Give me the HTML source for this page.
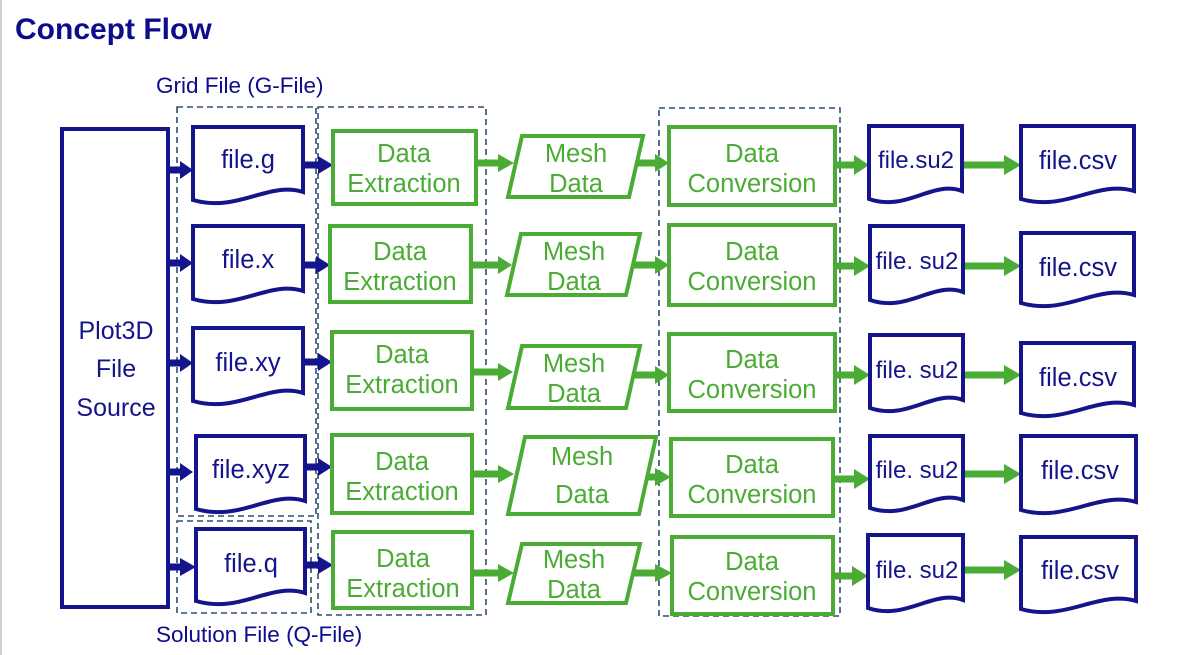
<!DOCTYPE html>
<html><head><meta charset="utf-8"><style>
html,body{margin:0;padding:0;background:#fff}
svg{display:block}
text{font-family:"Liberation Sans",Arial,sans-serif}
</style></head><body>
<svg width="1192" height="655" viewBox="0 0 1192 655" xmlns="http://www.w3.org/2000/svg">
<line x1="1" y1="0" x2="1" y2="655" stroke="#cfcfcf" stroke-width="2"/>
<text x="15" y="39" font-size="30" font-weight="bold" fill="#0d0d8c">Concept Flow</text>
<text x="156" y="93" font-size="22.5" fill="#0d0d8c">Grid File (G-File)</text>
<text x="156" y="642" font-size="22.5" fill="#0d0d8c">Solution File (Q-File)</text>

<g fill="none" stroke="#2b4e72" stroke-width="1.6" stroke-dasharray="6,4">
<rect x="177" y="107" width="139" height="409"/>
<rect x="318" y="107" width="168" height="508"/>
<rect x="177" y="521" width="134" height="92"/>
<rect x="659" y="108" width="181" height="508"/>
</g>

<rect x="62" y="129" width="106" height="478" fill="none" stroke="#14148c" stroke-width="4"/>
<g font-size="25" fill="#14148c" text-anchor="middle">
<text x="116" y="339">Plot3D</text><text x="116" y="377">File</text><text x="116" y="416">Source</text>
</g>

<g stroke="#14148c" stroke-width="7">
<line x1="168" y1="170" x2="182" y2="170"/><line x1="168" y1="263" x2="182" y2="263"/><line x1="168" y1="363" x2="182" y2="363"/><line x1="168" y1="472" x2="182" y2="472"/><line x1="168" y1="567" x2="182" y2="567"/>
<line x1="303" y1="165" x2="320" y2="165"/><line x1="303" y1="265" x2="318" y2="265"/><line x1="303" y1="362" x2="320" y2="362"/><line x1="305" y1="467" x2="320" y2="467"/><line x1="305" y1="565" x2="320" y2="565"/>
</g>
<g fill="#14148c">
<polygon points="180,161 193,170 180,179"/><polygon points="180,254 193,263 180,272"/><polygon points="180,354 193,363 180,372"/><polygon points="180,463 193,472 180,481"/><polygon points="180,558 196,567 180,576"/>
<polygon points="318,156 333,165 318,174"/><polygon points="316,256 330,265 316,274"/><polygon points="318,353 332,362 318,371"/><polygon points="318,458 332,467 318,476"/><polygon points="318,556 333,565 318,574"/>
</g>

<g stroke="#4aac34" stroke-width="7">
<line x1="476" y1="163" x2="500" y2="163"/><line x1="471" y1="265" x2="500" y2="265"/><line x1="472" y1="372" x2="500" y2="372"/><line x1="472" y1="474" x2="500" y2="474"/><line x1="472" y1="573" x2="500" y2="573"/>
<line x1="636" y1="163" x2="657" y2="163"/><line x1="633" y1="265" x2="657" y2="265"/><line x1="633" y1="375" x2="657" y2="375"/><line x1="648" y1="477" x2="657" y2="477"/><line x1="633" y1="573" x2="657" y2="573"/>
<line x1="835" y1="165" x2="856" y2="165"/><line x1="835" y1="266" x2="856" y2="266"/><line x1="835" y1="375" x2="856" y2="375"/><line x1="833" y1="479" x2="856" y2="479"/><line x1="833" y1="576" x2="854" y2="576"/>
<line x1="962" y1="165" x2="1006" y2="165"/><line x1="963" y1="266" x2="1006" y2="266"/><line x1="963" y1="375" x2="1006" y2="375"/><line x1="963" y1="474" x2="1006" y2="474"/><line x1="963" y1="570" x2="1006" y2="570"/>
</g>
<g fill="#4aac34">
<polygon points="498,154 514,163 498,172"/><polygon points="498,256 512,265 498,274"/><polygon points="498,363 513,372 498,381"/><polygon points="498,465 514,474 498,483"/><polygon points="498,564 514,573 498,582"/>
<polygon points="655,154 669,163 655,172"/><polygon points="655,256 669,265 655,274"/><polygon points="655,366 669,375 655,384"/><polygon points="655,468 671,477 655,486"/><polygon points="655,564 672,573 655,582"/>
<polygon points="854,155 869,165 854,175"/><polygon points="854,256 870,266 854,276"/><polygon points="854,365 870,375 854,385"/><polygon points="854,469 870,479 854,489"/><polygon points="852,566 868,576 852,586"/>
<polygon points="1004,155 1021,165 1004,175"/><polygon points="1004,256 1021,266 1004,276"/><polygon points="1004,365 1021,375 1004,385"/><polygon points="1004,464 1021,474 1004,484"/><polygon points="1004,560 1021,570 1004,580"/>
</g>

<g fill="#fff" stroke="#14148c" stroke-width="4">
<path d="M193 127H303V192C268 181 238 213 193 200Z"/>
<path d="M193 226H303V291C268 280 238 312 193 299Z"/>
<path d="M193 328H303V393C268 382 238 414 193 401Z"/>
<path d="M196 436H305V501C270 490 241 522 196 509Z"/>
<path d="M196 529H305V593C270 582 241 614 196 601Z"/>
<path d="M869 126H962V191C932 180 907 212 869 199Z"/>
<path d="M870 226H963V292C933 281 908 313 870 300Z"/>
<path d="M870 335H963V400C933 389 908 421 870 408Z"/>
<path d="M870 436H963V500C933 489 908 521 870 508Z"/>
<path d="M868 535H963V600C933 589 906 621 868 608Z"/>
<path d="M1021 126H1134V191C1096 180 1066 212 1021 199Z"/>
<path d="M1021 233H1134V295C1096 284 1066 316 1021 303Z"/>
<path d="M1021 343H1134V405C1096 394 1066 426 1021 413Z"/>
<path d="M1021 436H1136V502C1098 491 1066 523 1021 510Z"/>
<path d="M1021 537H1136V601C1098 590 1066 622 1021 609Z"/>
</g>
<g font-size="25.5" fill="#14148c" text-anchor="middle">
<text x="248" y="168">file.g</text>
<text x="248" y="268">file.x</text>
<text x="248" y="371">file.xy</text>
<text x="251" y="478">file.xyz</text>
<text x="251" y="572">file.q</text>
<text x="916" y="168" font-size="24">file.su2</text>
<text x="917" y="269" font-size="24">file. su2</text>
<text x="917" y="378" font-size="24">file. su2</text>
<text x="917" y="478" font-size="24">file. su2</text>
<text x="917" y="578" font-size="24">file. su2</text>
<text x="1078" y="169">file.csv</text>
<text x="1078" y="276">file.csv</text>
<text x="1078" y="386">file.csv</text>
<text x="1080" y="479">file.csv</text>
<text x="1080" y="579">file.csv</text>
</g>

<g fill="#fff" stroke="#4aac34" stroke-width="4">
<rect x="333" y="131" width="143" height="73"/>
<rect x="330" y="226" width="141" height="76"/>
<rect x="332" y="332" width="140" height="77"/>
<rect x="332" y="435" width="140" height="78"/>
<rect x="333" y="532" width="139" height="76"/>
<polygon points="522,136 643,136 629,197 508,197"/>
<polygon points="521,234 640,234 626,295 507,295"/>
<polygon points="522,346 640,346 626,408 508,408"/>
<polygon points="525,437 656,437 639,514 508,514"/>
<polygon points="522,544 640,544 626,603 508,603"/>
<rect x="669" y="127" width="166" height="78"/>
<rect x="669" y="225" width="166" height="80"/>
<rect x="669" y="334" width="166" height="77"/>
<rect x="671" y="439" width="162" height="77"/>
<rect x="672" y="537" width="161" height="77"/>
</g>
<g font-size="25.5" fill="#4aac34" text-anchor="middle">
<text x="404" y="162">Data</text><text x="404" y="192">Extraction</text>
<text x="400" y="260">Data</text><text x="400" y="290">Extraction</text>
<text x="402" y="363">Data</text><text x="402" y="393">Extraction</text>
<text x="402" y="470">Data</text><text x="402" y="500">Extraction</text>
<text x="403" y="567">Data</text><text x="403" y="597">Extraction</text>
<text x="576" y="162">Mesh</text><text x="576" y="192">Data</text>
<text x="574" y="260">Mesh</text><text x="574" y="290">Data</text>
<text x="574" y="372">Mesh</text><text x="574" y="402">Data</text>
<text x="582" y="465">Mesh</text><text x="582" y="503">Data</text>
<text x="574" y="568">Mesh</text><text x="574" y="598">Data</text>
<text x="752" y="162">Data</text><text x="752" y="192">Conversion</text>
<text x="752" y="260">Data</text><text x="752" y="290">Conversion</text>
<text x="752" y="368">Data</text><text x="752" y="398">Conversion</text>
<text x="752" y="473">Data</text><text x="752" y="503">Conversion</text>
<text x="752" y="570">Data</text><text x="752" y="600">Conversion</text>
</g>
</svg>
</body></html>
